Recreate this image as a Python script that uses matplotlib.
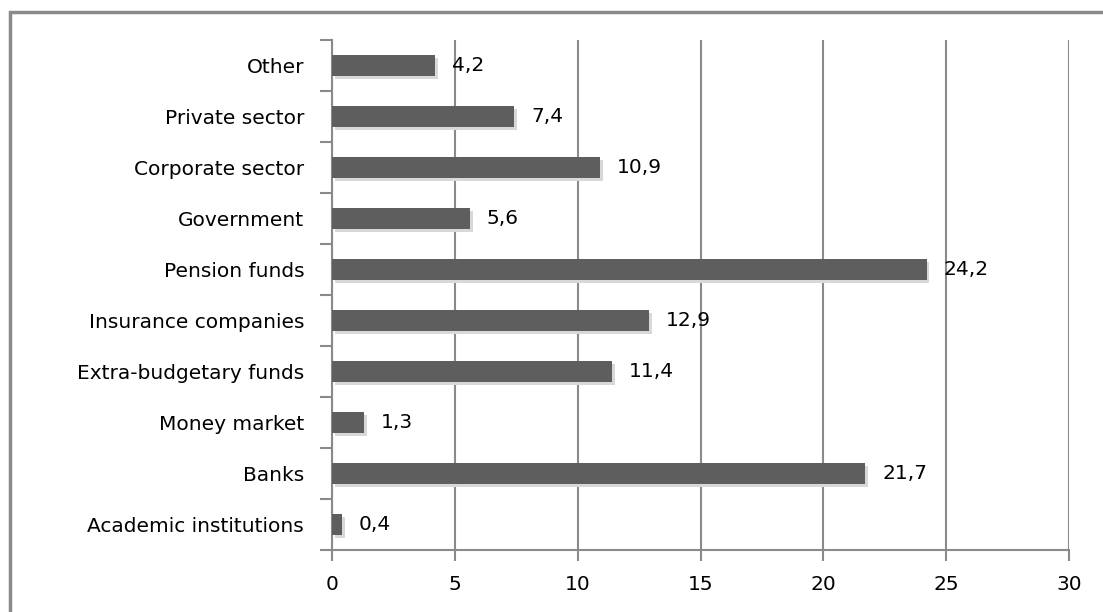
import matplotlib.pyplot as plt
from matplotlib.patches import Rectangle

categorias = ["Academic institutions", "Banks", "Money market", "Extra-budgetary funds",
              "Insurance companies", "Pension funds", "Government", "Corporate sector",
              "Private sector", "Other"]
valores = [0.4, 21.7, 1.3, 11.4, 12.9, 24.2, 5.6, 10.9, 7.4, 4.2]
etiquetas = ["0,4", "21,7", "1,3", "11,4", "12,9", "24,2", "5,6", "10,9", "7,4", "4,2"]
ticks_x = [0, 5, 10, 15, 20, 25, 30]

GRIS = "#8a8a8a"
TAM = 14.5

fig = plt.figure(figsize=(11.03, 6.12), dpi=100)
# marco exterior del grafico (se sale por la derecha y por abajo)
fig.patches.append(Rectangle((9.5 / 1103, -0.05), 1.2, 1 - 11.5 / 612 + 0.05,
                             transform=fig.transFigure, fill=False,
                             edgecolor=GRIS, linewidth=2.5))

ax = fig.add_axes([332 / 1103, 62 / 612, 737 / 1103, 510 / 612])
pos = list(range(len(categorias)))

# sombra suave bajo cada barra
ax.barh([p - 0.06 for p in pos], valores, height=0.4, left=0.12,
        color="#d8d8d8", zorder=2)
ax.barh(pos, valores, height=0.4, color="#5e5e5e", zorder=3)

for p, v, t in zip(pos, valores, etiquetas):
    ax.text(v + 0.7, p, t, va="center", ha="left", fontsize=TAM, color="black", zorder=4)

ax.set_xlim(0, 30)
ax.set_ylim(-0.5, len(categorias) - 0.5)
ax.set_xticks(ticks_x)
ax.set_xticklabels([str(t) for t in ticks_x], fontsize=TAM)
ax.set_yticks(pos)
ax.set_yticklabels(categorias, fontsize=TAM)
ax.set_yticks([p + 0.5 for p in range(-1, len(categorias))], minor=True)

ax.tick_params(axis="y", which="major", length=0, pad=20)
ax.tick_params(axis="y", which="minor", length=9, width=1.5, color=GRIS, direction="out")
ax.tick_params(axis="x", length=8, width=1.5, color=GRIS, pad=10)

ax.grid(axis="x", color=GRIS, linewidth=1.5, zorder=0)
ax.set_axisbelow(True)
for lado in ["top", "right"]:
    ax.spines[lado].set_visible(False)
for lado in ["left", "bottom"]:
    ax.spines[lado].set_color(GRIS)
    ax.spines[lado].set_linewidth(1.5)

fig.savefig("out.png", dpi=100)
